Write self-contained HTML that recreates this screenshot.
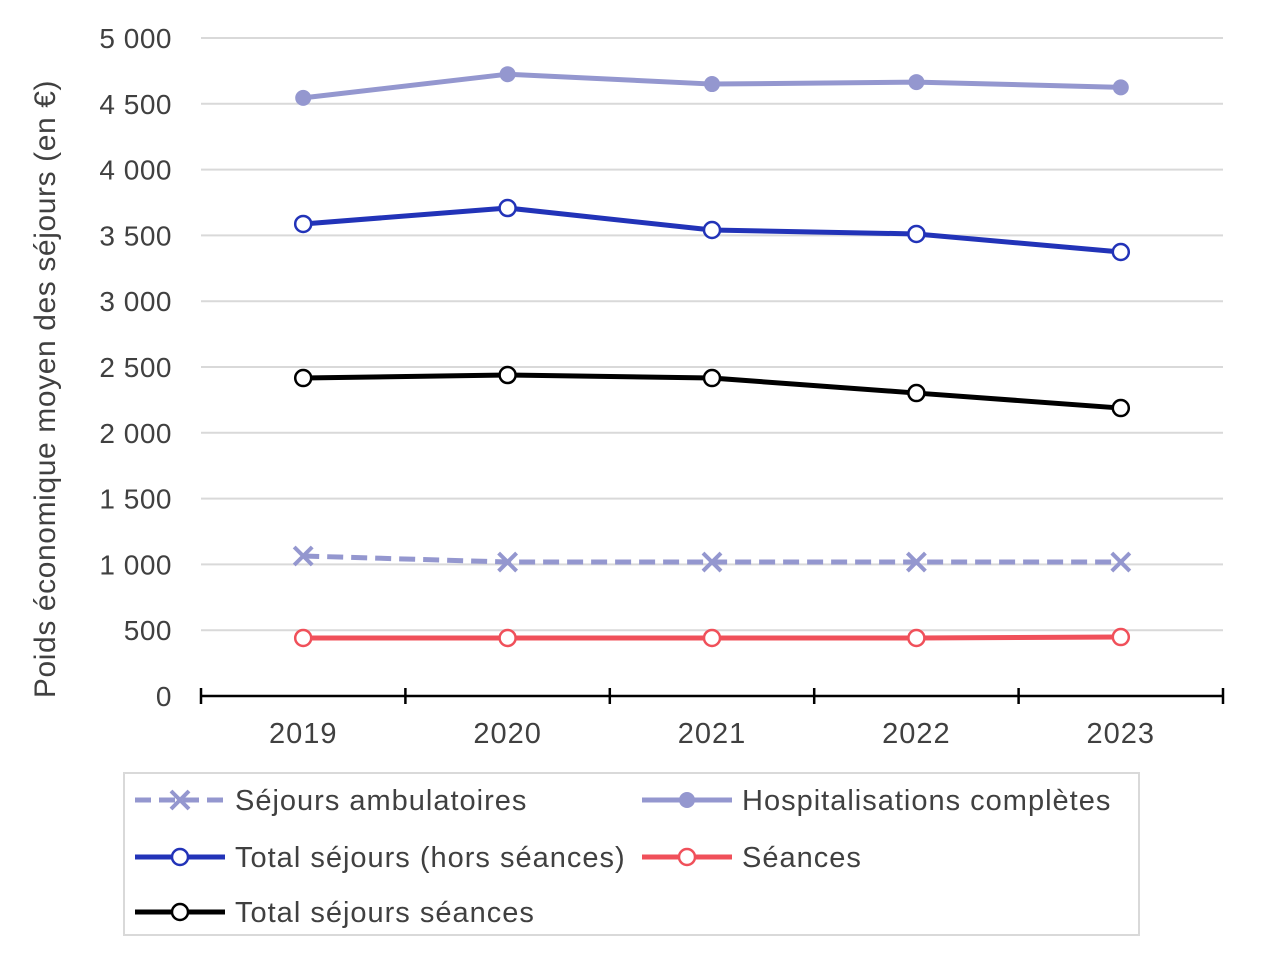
<!DOCTYPE html>
<html><head><meta charset="utf-8"><style>
body{margin:0;background:#fff;}
svg text{font-family:"Liberation Sans",sans-serif;fill:#404040;}
</style></head><body>
<svg id="chart" width="1263" height="957" xmlns="http://www.w3.org/2000/svg"></svg>
<script>
const categories=["2019","2020","2021","2022","2023"];
const hospValues=[4545,4725,4650,4665,4625];
const totalHorsValues=[3587,3708,3541,3511,3374];
const totalSeancesValues=[2416,2439,2416,2302,2188];
const ambuValues=[1064,1018,1018,1018,1018];
const seancesValues=[441,441,441,441,448];
const yTicks=[0,500,1000,1500,2000,2500,3000,3500,4000,4500,5000];
const yTickLabels=["0","500","1 000","1 500","2 000","2 500","3 000","3 500","4 000","4 500","5 000"];

const NS="http://www.w3.org/2000/svg";
const svg=document.getElementById('chart');
const x0=201,x1=1223,yBase=696,yTop=38;
const band=(x1-x0)/categories.length;
const xs=i=>x0+band*(i+0.5);
const ys=v=>yBase-(v/5000)*(yBase-yTop);
function mk(tag,attrs,parent){const e=document.createElementNS(NS,tag);for(const k in attrs)e.setAttribute(k,attrs[k]);(parent||svg).appendChild(e);return e;}

yTicks.forEach((t,i)=>{
  if(t>0){const g=mk('line',{x1:x0,x2:x1,y1:ys(t),y2:ys(t),stroke:'#d9d9d9','stroke-width':2});
  
  }
  const tx=mk('text',{x:172,y:ys(t)+10,'text-anchor':'end','font-size':28,'letter-spacing':0.5});
  tx.textContent=yTickLabels[i];
  
  
});
const ax=mk('line',{x1:x0,x2:x1,y1:yBase,y2:yBase,stroke:'#000','stroke-width':2.5});


for(let i=0;i<=categories.length;i++){
  const tk=mk('line',{x1:x0+band*i,x2:x0+band*i,y1:yBase-8,y2:yBase+8,stroke:'#000','stroke-width':2.5});
  
  
}
categories.forEach((c,i)=>{
  const t=mk('text',{x:xs(i),y:743,'text-anchor':'middle','font-size':29,'letter-spacing':1});
  t.textContent=c;
  
  
});
const yt=mk('text',{x:0,y:0,'text-anchor':'middle','font-size':30,'letter-spacing':0.6,transform:'translate(55,389) rotate(-90)'});
yt.textContent='Poids économique moyen des séjours (en €)';



function series(vals,color,marker,dash,name){
  const g=mk('g',{});
  
  
  const p=mk('polyline',{points:vals.map((v,i)=>xs(i)+','+ys(v)).join(' '),fill:'none',stroke:color,'stroke-width':5,'stroke-linejoin':'round'},g);
  if(dash)p.setAttribute('stroke-dasharray','16,8');
  vals.forEach((v,i)=>drawMarker(g,xs(i),ys(v),color,marker));
}
function drawMarker(g,x,y,color,marker){
  if(marker==='x'){
    mk('path',{d:`M${x-9},${y-9}L${x+9},${y+9}M${x-9},${y+9}L${x+9},${y-9}`,stroke:color,'stroke-width':4},g);
  }else if(marker==='filled'){
    mk('circle',{cx:x,cy:y,r:8,fill:color},g);
  }else{
    mk('circle',{cx:x,cy:y,r:8,fill:'#fff',stroke:color,'stroke-width':2.5},g);
  }
}
const cHosp='#9497cf',cBlue='#2233b8',cBlack='#000',cRed='#f0505a';
series(hospValues,cHosp,'filled',false,'series-hospitalisations');
series(totalHorsValues,cBlue,'open',false,'series-total-hors-seances');
series(totalSeancesValues,cBlack,'open',false,'series-total-seances');
series(ambuValues,cHosp,'x',true,'series-ambulatoires');
series(seancesValues,cRed,'open',false,'series-seances');

const lg=mk('g',{});


mk('rect',{x:124,y:773,width:1015,height:162,fill:'#fff',stroke:'#d9d9d9','stroke-width':2},lg);
const entries=[[135,800,cHosp,'x',true,'Séjours ambulatoires'],[642,800,cHosp,'filled',false,'Hospitalisations complètes'],
[135,857,cBlue,'open',false,'Total séjours (hors séances)'],[642,857,cRed,'open',false,'Séances'],[135,912,cBlack,'open',false,'Total séjours séances']];
entries.forEach(e=>{
  const g=mk('g',{},lg);
  
  
  const l=mk('line',{x1:e[0],x2:e[0]+90,y1:e[1],y2:e[1],stroke:e[2],'stroke-width':5},g);
  if(e[4])l.setAttribute('stroke-dasharray','16,8');
  drawMarker(g,e[0]+45,e[1],e[2],e[3]);
  const t=mk('text',{x:e[0]+100,y:e[1]+10,'font-size':29,'letter-spacing':1},g);
  t.textContent=e[5];
});
</script>
</body></html>
